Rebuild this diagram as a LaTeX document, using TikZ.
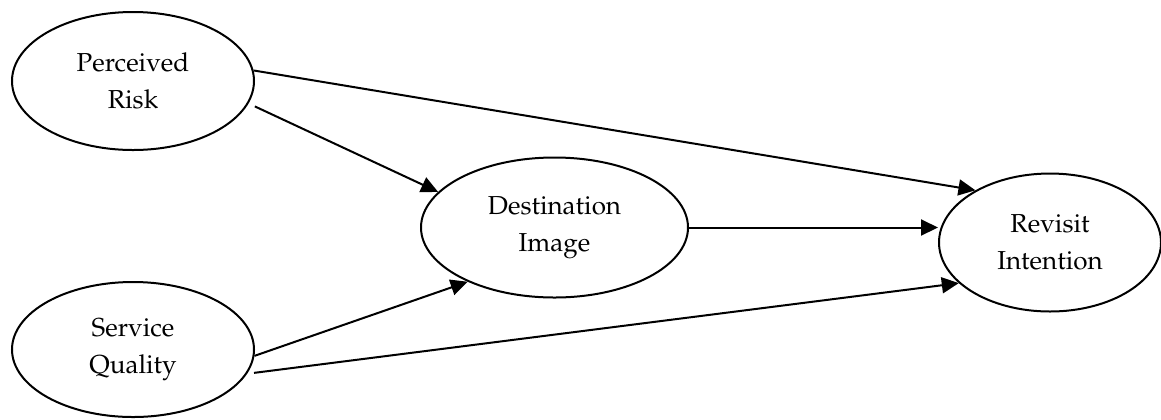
\documentclass[tikz,border=0pt]{standalone}
\usepackage[T1]{fontenc}
\usepackage{mathpazo}
\usetikzlibrary{arrows.meta,shapes.geometric}
\begin{document}
\begin{tikzpicture}[x=0.5pt,y=-0.5pt,
  latent/.style={ellipse,draw,line width=1pt,inner sep=0pt,align=center,
    font=\fontsize{13}{18.5}\selectfont},
  arr/.style={-{Triangle[length=8.5pt,width=8pt]},line width=1pt}]
\useasboundingbox (0,0) rectangle (1161,419);
\node[latent,minimum width=121pt,minimum height=69pt] (pr) at (133,81) {Perceived\\Risk};
\node[latent,minimum width=121pt,minimum height=67.5pt] (sq) at (133,349.5) {Service\\Quality};
\node[latent,minimum width=133.5pt,minimum height=70pt] (di) at (554.5,227.5) {Destination\\Image};
\node[latent,minimum width=111pt,minimum height=69pt] (ri) at (1050,242.5) {Revisit\\Intention};
\draw[arr] (pr.5) -- (ri.145);
\draw[arr,shorten <=3.5pt] (pr.-11) -- (di.163.5);
\draw[arr] (sq.-3.5) -- (di.212);
\draw[arr,shorten <=3.5pt] (sq.-12.4) -- (ri.204.4);
\draw[arr] (di.east) -- (di.east -| ri.west);
\end{tikzpicture}
\end{document}
